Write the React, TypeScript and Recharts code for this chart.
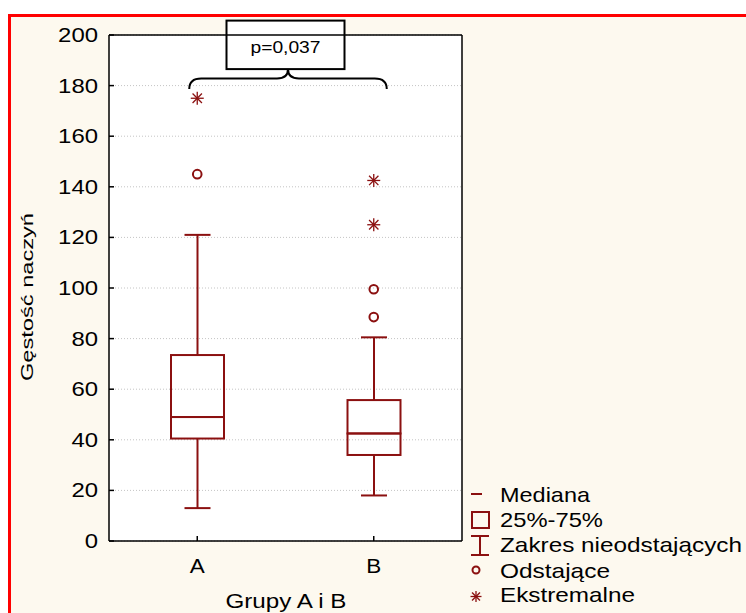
import React from "react";
import {
  ComposedChart,
  Bar,
  Scatter,
  XAxis,
  YAxis,
  CartesianGrid,
  ReferenceLine,
  Legend,
} from "recharts";

// box plot summary per group
const groups = ["A", "B"];
const whiskerLow = [13, 18];
const quartile1 = [40.5, 34];
const medians = [49, 42.5];
const quartile3 = [73.5, 55.7];
const whiskerHigh = [121, 80.5];

// outliers (circles) and extremes (asterisks)
const outlierGroups = ["A", "B", "B"];
const outlierValues = [145, 88.5, 99.5];
const extremeGroups = ["A", "B", "B"];
const extremeValues = [175, 125, 142.5];

const yTicks = [0, 20, 40, 60, 80, 100, 120, 140, 160, 180, 200];
const bracketLevel = 180;
const pValueLabel = "p=0,037";
const legendLabels = ["Mediana", "25%-75%", "Zakres nieodstających", "Odstające", "Ekstremalne"];
const legendWidths = [90, 103, 242, 110, 135];

const RED = "#8b1010";
const FONT = "'Liberation Sans', Arial, sans-serif";

const rows = groups.map((g, i) => ({
  group: g,
  base: whiskerLow[i],
  lowWhisker: quartile1[i] - whiskerLow[i],
  lowBox: medians[i] - quartile1[i],
  highBox: quartile3[i] - medians[i],
  highWhisker: whiskerHigh[i] - quartile3[i],
}));

const outliers = outlierGroups.map((g, i) => ({ group: g, value: outlierValues[i] }));
const extremes = extremeGroups.map((g, i) => ({ group: g, value: extremeValues[i] }));

const EmptyShape = () => <g />;

const whiskerShape = (capAtTop: boolean) => (props: any) => {
  const { x, y, width, height } = props;
  const cx = x + width / 2;
  const capY = capAtTop ? y : y + height;
  return (
    <g stroke={RED} strokeWidth={2}>
      <line x1={cx} x2={cx} y1={y} y2={y + height} />
      <line x1={cx - 13} x2={cx + 13} y1={capY} y2={capY} />
    </g>
  );
};

const BoxShape = (props: any) => {
  const { x, y, width, height } = props;
  return <rect x={x} y={y} width={width} height={height} fill="none" stroke={RED} strokeWidth={2} />;
};

const CircleMark = (props: any) => {
  const { cx, cy } = props;
  if (cx == null || cy == null) return <g />;
  return <circle cx={cx} cy={cy} r={4.3} fill="none" stroke={RED} strokeWidth={2} />;
};

const Asterisk = ({ cx, cy, r = 6.5 }: { cx: number; cy: number; r?: number }) => {
  const d = r * 0.72;
  return (
    <g stroke={RED} strokeWidth={1.3}>
      <line x1={cx} x2={cx} y1={cy - r} y2={cy + r} />
      <line x1={cx - r} x2={cx + r} y1={cy} y2={cy} />
      <line x1={cx - d} x2={cx + d} y1={cy - d} y2={cy + d} />
      <line x1={cx - d} x2={cx + d} y1={cy + d} y2={cy - d} />
    </g>
  );
};

const AsteriskMark = (props: any) => {
  const { cx, cy } = props;
  if (cx == null || cy == null) return <g />;
  return <Asterisk cx={cx} cy={cy} />;
};

const YTick = (props: any) => {
  const { x, y, payload } = props;
  const s = String(payload.value);
  return (
    <text x={x} y={y + 7} textAnchor="end" fontSize={20} fontFamily={FONT} fill="#000"
      textLength={13.3 * s.length} lengthAdjust="spacingAndGlyphs">
      {s}
    </text>
  );
};

const XTick = (props: any) => {
  const { x, y, payload } = props;
  return (
    <text x={x} y={y + 27} textAnchor="middle" fontSize={20} fontFamily={FONT} fill="#000"
      textLength={15} lengthAdjust="spacingAndGlyphs">
      {payload.value}
    </text>
  );
};

// curly bracket with the p-value box, drawn between the two groups
const Bracket = (props: any) => {
  const { x1, y1, x2 } = props;
  if (x1 == null || y1 == null) return <g />;
  const L = x1 - 8;
  const R = x2 + 13;
  const M = (L + R) / 2;
  const e = y1 + 3.5;
  const h = y1 - 7;
  const c = y1 - 16.5;
  const d = `M${L},${e} Q${L},${h} ${L + 12},${h} L${M - 11},${h} Q${M},${h} ${M},${c} Q${M},${h} ${M + 11},${h} L${R - 12},${h} Q${R},${h} ${R},${e}`;
  const bx = (x1 + x2) / 2;
  return (
    <g>
      <path d={d} fill="none" stroke="#000" strokeWidth={2} />
      <rect x={bx - 59} y={y1 - 65} width={118} height={48.5} fill="#fff" stroke="#000" strokeWidth={2} />
      <text x={bx} y={y1 - 33} textAnchor="middle" fontSize={16} fontFamily={FONT} fill="#000"
        textLength={70} lengthAdjust="spacingAndGlyphs">
        {pValueLabel}
      </text>
    </g>
  );
};

const LegendContent = () => {
  const tx = 40;
  const base = [23.7, 48.7, 73.7, 99.5, 123.7];
  return (
    <svg width={286} height={135} style={{ display: "block" }}>
      <line x1={11} x2={22} y1={16} y2={16} stroke={RED} strokeWidth={2} />
      <rect x={12} y={34} width={17} height={16} fill="none" stroke={RED} strokeWidth={2} />
      <g stroke={RED} strokeWidth={2}>
        <line x1={20} x2={20} y1={58} y2={77} />
        <line x1={11} x2={29} y1={58} y2={58} />
        <line x1={11} x2={29} y1={77} y2={77} />
      </g>
      <circle cx={16} cy={92} r={3.5} fill="none" stroke={RED} strokeWidth={2} />
      <Asterisk cx={16} cy={118.5} r={5.5} />
      {legendLabels.map((label, i) => (
        <text key={label} x={tx} y={base[i]} fontSize={21} fontFamily={FONT} fill="#000"
          textLength={legendWidths[i]} lengthAdjust="spacingAndGlyphs">
          {label}
        </text>
      ))}
    </svg>
  );
};

const App: React.FC = () => {
  return (
    <div style={{ position: "absolute", left: 0, top: 0, width: 746, height: 613, background: "#fff", overflow: "hidden" }}>
      <div style={{ position: "absolute", left: 8, top: 14, width: 800, height: 700, border: "3px solid #ff0000", background: "#fdf9ef" }} />
      <div style={{ position: "absolute", left: 0, top: 0 }}>
        <ComposedChart width={746} height={613} data={rows} margin={{ top: 33, right: 282, bottom: 42, left: 29 }}>
          <CartesianGrid vertical={false} stroke="#c4c4c4" strokeDasharray="1 2" fill="#ffffff" />
          <XAxis dataKey="group" type="category" allowDuplicatedCategory={false} height={30}
            axisLine={{ stroke: "#000", strokeWidth: 1.5 }} tickLine={{ stroke: "#000", strokeWidth: 1.5 }}
            tickSize={-5} tickMargin={10} tick={<XTick />} />
          <XAxis xAxisId="top" orientation="top" dataKey="group" type="category" allowDuplicatedCategory={false}
            height={2} axisLine={{ stroke: "#000", strokeWidth: 1.5 }} tickLine={{ stroke: "#000", strokeWidth: 1.5 }}
            tickSize={-5} tickMargin={0} tick={false} />
          <YAxis type="number" domain={[0, 200]} ticks={yTicks} interval={0} width={80}
            axisLine={{ stroke: "#000", strokeWidth: 1.5 }} tickLine={{ stroke: "#000", strokeWidth: 1.5 }}
            tickSize={-5} tickMargin={16} tick={<YTick />}
            label={{
              content: () => (
                <text x={33} y={297} transform="rotate(-90 33 297)" textAnchor="middle" fontSize={17}
                  fontFamily={FONT} fill="#000" textLength={168} lengthAdjust="spacingAndGlyphs">
                  Gęstość naczyń
                </text>
              ),
            }} />
          <YAxis yAxisId="right" orientation="right" type="number" domain={[0, 200]} ticks={yTicks} interval={0}
            width={2} axisLine={{ stroke: "#000", strokeWidth: 1.5 }} tickLine={{ stroke: "#000", strokeWidth: 1.5 }}
            tickSize={-5} tickMargin={0} tick={false} />
          <Bar dataKey="base" stackId="box" barSize={53} shape={EmptyShape} isAnimationActive={false} legendType="none" />
          <Bar dataKey="lowWhisker" stackId="box" barSize={53} shape={whiskerShape(false)} isAnimationActive={false} />
          <Bar dataKey="lowBox" stackId="box" barSize={53} shape={BoxShape} isAnimationActive={false} />
          <Bar dataKey="highBox" stackId="box" barSize={53} shape={BoxShape} isAnimationActive={false} />
          <Bar dataKey="highWhisker" stackId="box" barSize={53} shape={whiskerShape(true)} isAnimationActive={false} />
          <Scatter data={outliers} dataKey="value" shape={CircleMark} isAnimationActive={false} />
          <Scatter data={extremes} dataKey="value" shape={AsteriskMark} isAnimationActive={false} />
          <ReferenceLine segment={[{ x: "A", y: bracketLevel }, { x: "B", y: bracketLevel }]} ifOverflow="visible"
            shape={Bracket} />
          <Legend layout="horizontal" verticalAlign="middle" align="center" content={LegendContent}
            wrapperStyle={{ left: 460, top: 478, width: 286, height: 135 }} />
          <text x={286} y={608} textAnchor="middle" fontSize={20} fontFamily={FONT} fill="#000"
            textLength={121} lengthAdjust="spacingAndGlyphs">
            Grupy A i B
          </text>
        </ComposedChart>
      </div>
    </div>
  );
};

export default App;
